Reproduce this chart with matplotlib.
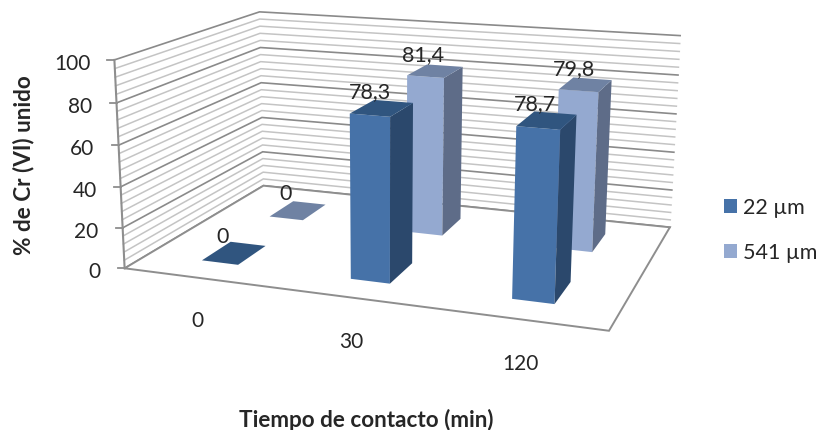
import numpy as np
import matplotlib
matplotlib.use('Agg')
import matplotlib.pyplot as plt
from matplotlib.patches import Polygon, Rectangle

# datos del grafico
categories = ['0', '30', '120']
series_names = ['22 µm', '541 µm']
values_22 = [0, 78.3, 78.7]
values_541 = [0, 81.4, 79.8]
value_labels_22 = ['0', '78,3', '78,7']
value_labels_541 = ['0', '81,4', '79,8']
z_ticks = [0, 20, 40, 60, 80, 100]
minor_step = 4

# colores: frente, lado, tapa
colors_22 = ('#4672A8', '#2B486C', '#30557F')
colors_541 = ('#94A9D0', '#5E6C88', '#6F82A3')

plt.rcParams['font.family'] = ['Lato', 'DejaVu Sans']

# esquinas de la caja 3D (x categoria, y serie, z valor) y su lugar en pixeles
box_xyz = [(0, 0, 0), (0, 0, 100), (0, 2, 100), (0, 2, 0), (3, 2, 100), (3, 2, 0), (3, 0, 0)]
box_px = [(125, 269), (114, 61), (260, 12.7), (263, 187), (680, 36.7), (670, 228), (609, 332)]

# donde van los nombres de categoria, en pixeles
category_label_px = [(197, 321), (351, 342), (520, 364)]


def fit_camera(xyz, px):
    rows = []
    for (x, y, z), (u, v) in zip(xyz, px):
        rows.append([x, y, z, 1, 0, 0, 0, 0, -u * x, -u * y, -u * z, -u])
        rows.append([0, 0, 0, 0, x, y, z, 1, -v * x, -v * y, -v * z, -v])
    return np.linalg.svd(np.array(rows, dtype=float))[2][-1].reshape(3, 4)


camera = fit_camera(box_xyz, box_px)


def project(x, y, z):
    u, v, w = camera @ np.array([x, y, z, 1.0])
    return u / w, v / w


fig = plt.figure(figsize=(8.19, 4.31), dpi=100)
ax = fig.add_axes([0, 0, 1, 1])
ax.set_xlim(0, 819)
ax.set_ylim(431, 0)
ax.axis('off')


def wall_line(z, color, lw):
    pts = [project(0, 0, z), project(0, 2, z), project(3, 2, z)]
    ax.plot(*zip(*pts), color=color, lw=lw, solid_joinstyle='miter', zorder=2)


# lineas menores y mayores de las paredes
for z in np.arange(0, 100 + minor_step, minor_step):
    if z not in z_ticks:
        wall_line(z, '#C4C4C4', 1.1)
for z in z_ticks:
    wall_line(z, '#8A8A8A', 1.2)

# piso
floor = [project(0, 0, 0), project(3, 0, 0), project(3, 2, 0), project(0, 2, 0)]
ax.add_patch(Polygon(floor, closed=True, fc='white', ec='#8E8E8E', lw=1.4, zorder=3))

# eje vertical con marcas
ax.plot(*zip(project(0, 0, 0), project(0, 0, 100)), color='#8E8E8E', lw=1.5, zorder=4)
for z in z_ticks:
    u, v = project(0, 0, z)
    ax.plot([u - 7, u], [v, v], color='#8E8E8E', lw=1.3, zorder=4)
    ax.text(u - 24, v + 3, str(z), ha='right', va='center', fontsize=15, color='#262626')


def draw_bar(i, s, value, colors, label, order):
    x0, x1 = i + 0.375, i + 0.625
    y0, y1 = s + 0.3, s + 0.7
    front = [project(x0, y0, 0), project(x1, y0, 0), project(x1, y0, value), project(x0, y0, value)]
    side = [project(x1, y0, 0), project(x1, y1, 0), project(x1, y1, value), project(x1, y0, value)]
    top = [project(x0, y0, value), project(x1, y0, value), project(x1, y1, value), project(x0, y1, value)]
    if value > 0:
        ax.add_patch(Polygon(front, closed=True, fc=colors[0], ec='none', zorder=order))
        ax.add_patch(Polygon(side, closed=True, fc=colors[1], ec='none', zorder=order))
    ax.add_patch(Polygon(top, closed=True, fc=colors[2], ec='none', zorder=order))
    u, v = project(i + 0.5, s + 0.5, value)
    ax.text(u - 12, v - 17, label, ha='center', va='center', fontsize=15.5, color='#262626', zorder=20)


# primero la serie del fondo
for i in range(len(categories)):
    draw_bar(i, 1, values_541[i], colors_541, value_labels_541[i], 5 + i)
for i in range(len(categories)):
    draw_bar(i, 0, values_22[i], colors_22, value_labels_22[i], 10 + i)

# etiquetas de categoria
for name, (u, v) in zip(categories, category_label_px):
    ax.text(u, v, name, ha='center', va='center', fontsize=15, color='#262626')

# titulos de ejes
ax.text(366, 420, 'Tiempo de contacto (min)', ha='center', va='center',
        fontsize=16.2, fontweight='bold', color='#262626')
ax.text(24, 165, '% de Cr (VI) unido', ha='center', va='center', rotation=90,
        fontsize=16.2, fontweight='bold', color='#262626')

# leyenda
for name, colors, ly in zip(series_names, (colors_22, colors_541), (207, 252)):
    ax.add_patch(Rectangle((724, ly - 7), 13, 14, fc=colors[0], ec='none'))
    ax.text(743, ly + 1, name, ha='left', va='center', fontsize=15.5, color='#262626')

plt.savefig('out.png', dpi=100)
